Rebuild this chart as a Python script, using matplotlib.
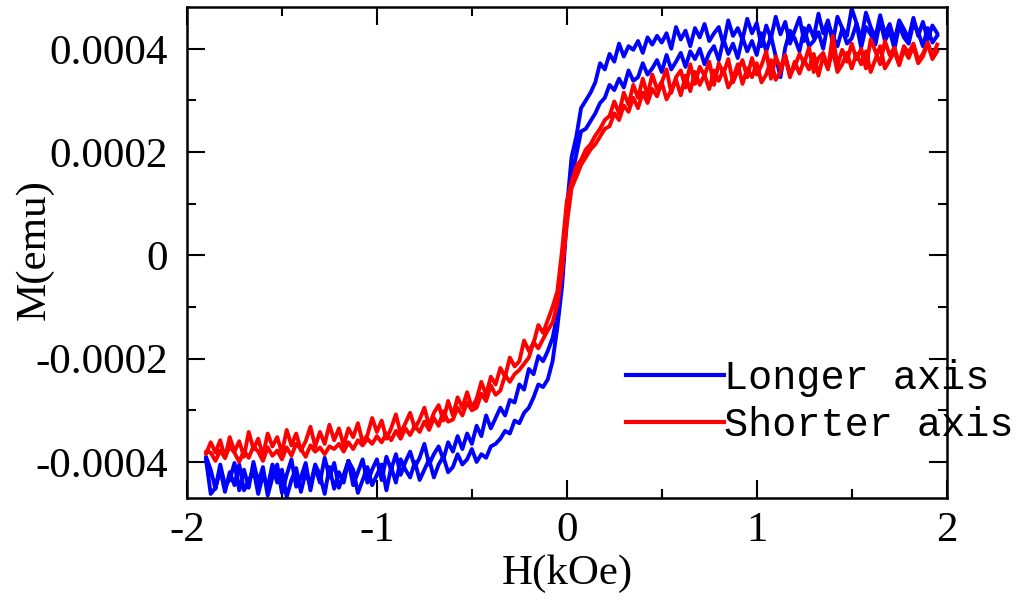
import matplotlib
matplotlib.use("Agg")
import matplotlib.pyplot as plt
from matplotlib.ticker import FixedLocator, MultipleLocator

# field sweep (kOe), shared by all branches
h = [1.950, 1.925, 1.900, 1.875, 1.850, 1.825, 1.800, 1.775, 1.750, 1.725,
     1.700, 1.675, 1.650, 1.625, 1.600, 1.575, 1.550, 1.525, 1.500, 1.475,
     1.450, 1.425, 1.400, 1.375, 1.350, 1.325, 1.300, 1.275, 1.250, 1.225,
     1.200, 1.175, 1.150, 1.125, 1.100, 1.075, 1.050, 1.025, 1.000, 0.975,
     0.950, 0.925, 0.900, 0.875, 0.850, 0.825, 0.800, 0.775, 0.750, 0.725,
     0.700, 0.675, 0.650, 0.625, 0.600, 0.575, 0.550, 0.525, 0.500, 0.475,
     0.450, 0.425, 0.400, 0.375, 0.350, 0.325, 0.300, 0.275, 0.250, 0.225,
     0.200, 0.175, 0.150, 0.125, 0.100, 0.075, 0.050, 0.025, 0.000, -0.025,
     -0.050, -0.075, -0.100, -0.125, -0.150, -0.175, -0.200, -0.225, -0.250, -0.275,
     -0.300, -0.325, -0.350, -0.375, -0.400, -0.425, -0.450, -0.475, -0.500, -0.525,
     -0.550, -0.575, -0.600, -0.625, -0.650, -0.675, -0.700, -0.725, -0.750, -0.775,
     -0.800, -0.825, -0.850, -0.875, -0.900, -0.925, -0.950, -0.975, -1.000, -1.025,
     -1.050, -1.075, -1.100, -1.125, -1.150, -1.175, -1.200, -1.225, -1.250, -1.275,
     -1.300, -1.325, -1.350, -1.375, -1.400, -1.425, -1.450, -1.475, -1.500, -1.525,
     -1.550, -1.575, -1.600, -1.625, -1.650, -1.675, -1.700, -1.725, -1.750, -1.775,
     -1.800, -1.825, -1.850, -1.875, -1.900]

# magnetization in units of 1e-4 emu, same order as h
long_down = [4.30, 4.45, 4.18, 4.52, 4.25, 4.60, 4.20, 4.38, 4.55, 4.15,
             4.48, 4.28, 4.65, 4.22, 4.42, 4.70, 4.18, 4.50, 4.78, 4.25,
             4.40, 4.62, 4.12, 4.55, 4.30, 4.68, 4.22, 4.45, 4.15, 4.60,
             4.35, 4.10, 4.52, 4.28, 4.62, 4.20, 4.45, 4.05, 4.50, 4.30,
             4.58, 4.18, 4.40, 4.25, 4.55, 4.08, 4.42, 4.30, 4.15, 4.48,
             4.22, 4.40, 4.05, 4.35, 4.18, 4.42, 4.00, 4.30, 4.12, 4.25,
             4.08, 4.22, 3.92, 4.15, 3.98, 4.05, 3.85, 4.10, 3.75, 3.90,
             3.60, 3.72, 3.35, 3.15, 3.00, 2.85, 2.30, 1.90, 0.90, -0.40,
             -1.15, -1.60, -1.85, -2.05, -1.95, -2.30, -2.20, -2.60, -2.50, -2.85,
             -2.80, -3.10, -2.95, -3.15, -3.35, -3.10, -3.50, -3.30, -3.65, -3.45,
             -3.75, -3.50, -3.80, -3.62, -3.95, -3.70, -3.85, -4.05, -3.65, -3.92,
             -4.10, -3.80, -4.00, -4.25, -3.85, -4.15, -3.90, -4.35, -3.95, -4.15,
             -4.40, -3.95, -4.20, -4.45, -3.98, -4.25, -4.50, -4.02, -4.30, -3.92,
             -4.40, -4.10, -4.55, -4.02, -4.30, -4.48, -3.95, -4.25, -4.60, -4.05,
             -4.30, -4.65, -4.10, -4.40, -4.00, -4.50, -4.15, -4.55, -4.02, -4.35,
             -4.45, -4.05, -4.52, -4.15, -3.90]
long_up = [4.25, 4.12, 4.40, 4.05, 4.32, 4.50, 4.10, 4.22, 4.45, 4.00,
           4.35, 4.15, 4.55, 4.08, 4.28, 4.42, 4.02, 4.48, 4.20, 4.10,
           4.38, 4.05, 4.25, 4.50, 4.00, 4.32, 4.15, 4.05, 4.40, 3.95,
           4.20, 4.35, 4.02, 3.45, 3.85, 4.25, 3.95, 4.30, 3.88, 4.15,
           3.95, 4.22, 3.82, 4.10, 3.90, 4.18, 3.78, 4.05, 3.92, 3.70,
           4.00, 3.80, 3.95, 3.65, 3.92, 3.75, 3.60, 3.88, 3.55, 3.78,
           3.62, 3.50, 3.72, 3.45, 3.38, 3.58, 3.25, 3.42, 3.20, 3.30,
           3.05, 2.95, 2.75, 2.60, 2.45, 2.40, 1.95, 1.50, 0.70, -0.60,
           -1.40, -2.05, -2.40, -2.55, -2.50, -2.75, -2.95, -3.05, -3.25, -3.20,
           -3.45, -3.40, -3.55, -3.65, -3.70, -3.92, -3.85, -4.00, -3.75, -3.95,
           -4.05, -3.85, -4.10, -4.20, -3.90, -4.05, -4.30, -3.95, -4.15, -4.35,
           -4.00, -4.30, -4.15, -3.95, -4.40, -4.10, -4.55, -4.05, -4.25, -4.45,
           -4.10, -4.35, -4.60, -4.15, -3.98, -4.40, -4.20, -4.52, -4.10, -4.62,
           -4.25, -4.05, -4.45, -4.20, -4.58, -4.12, -4.35, -4.68, -4.15, -4.40,
           -4.05, -4.48, -4.25, -4.62, -4.15, -4.38, -4.55, -4.05, -4.45, -4.20,
           -4.58, -4.15, -4.50, -4.62, -3.95]
short_down = [4.08, 3.85, 4.12, 3.90, 3.78, 4.10, 3.92, 4.05, 3.72, 4.02,
              3.88, 4.15, 3.70, 3.95, 4.18, 3.62, 4.00, 3.80, 4.10, 3.75,
              3.98, 3.68, 4.25, 3.60, 3.92, 3.82, 3.55, 4.02, 3.72, 3.90,
              3.65, 3.50, 3.88, 3.62, 3.85, 3.42, 3.95, 3.68, 3.50, 3.82,
              3.45, 3.78, 3.58, 3.35, 3.80, 3.52, 3.72, 3.30, 3.75, 3.48,
              3.65, 3.32, 3.70, 3.25, 3.58, 3.45, 3.15, 3.60, 3.35, 3.22,
              3.50, 3.10, 3.42, 3.05, 3.30, 2.92, 3.15, 2.75, 2.98, 2.70,
              2.62, 2.45, 2.32, 2.15, 2.05, 1.85, 1.72, 1.42, 1.05, 0.10,
              -0.70, -1.00, -1.25, -1.50, -1.35, -1.70, -1.85, -1.65, -2.05, -2.15,
              -1.98, -2.35, -2.18, -2.50, -2.35, -2.70, -2.45, -2.78, -2.95, -2.65,
              -2.95, -2.75, -3.10, -2.82, -3.20, -2.90, -3.05, -3.30, -2.95, -3.18,
              -3.35, -3.05, -3.25, -3.45, -3.08, -3.35, -3.55, -3.20, -3.42, -3.15,
              -3.48, -3.62, -3.25, -3.52, -3.35, -3.68, -3.35, -3.58, -3.28, -3.65,
              -3.42, -3.70, -3.32, -3.60, -3.78, -3.45, -3.68, -3.38, -3.82, -3.52,
              -3.70, -3.45, -3.88, -3.55, -3.75, -3.42, -3.90, -3.60, -3.80, -3.52,
              -3.92, -3.58, -3.82, -3.62, -3.85]
short_up = [3.95, 3.80, 4.10, 3.85, 3.72, 4.05, 3.82, 3.98, 3.68, 3.95,
            3.78, 3.62, 4.05, 3.80, 3.55, 3.95, 3.70, 3.90, 3.62, 3.92,
            3.70, 3.55, 3.98, 3.62, 3.85, 3.48, 3.90, 3.60, 3.78, 3.52,
            3.75, 3.45, 3.85, 3.55, 3.40, 3.78, 3.50, 3.35, 3.72, 3.45,
            3.62, 3.32, 3.70, 3.42, 3.25, 3.60, 3.38, 3.58, 3.22, 3.50,
            3.30, 3.55, 3.18, 3.48, 3.10, 3.40, 3.20, 3.02, 3.35, 3.08,
            3.22, 2.95, 3.15, 2.85, 3.05, 2.78, 2.90, 2.62, 2.75, 2.50,
            2.45, 2.30, 2.15, 2.05, 1.90, 1.75, 1.52, 1.30, 0.60, -0.30,
            -0.95, -1.30, -1.45, -1.62, -1.80, -1.68, -1.98, -2.10, -2.22, -2.30,
            -2.45, -2.32, -2.62, -2.70, -2.52, -2.82, -2.68, -2.95, -3.00, -2.85,
            -3.10, -2.95, -3.18, -3.22, -3.02, -3.30, -3.15, -3.38, -3.22, -3.42,
            -3.30, -3.48, -3.35, -3.55, -3.40, -3.58, -3.45, -3.62, -3.50, -3.65,
            -3.55, -3.68, -3.58, -3.75, -3.62, -3.80, -3.65, -3.75, -3.70, -3.85,
            -3.72, -3.80, -3.68, -3.90, -3.75, -3.65, -3.88, -3.72, -3.95, -3.78,
            -3.88, -3.72, -3.98, -3.80, -3.70, -3.92, -3.78, -4.00, -3.82, -3.70,
            -3.92, -3.78, -3.98, -3.82, -3.80]

labels = ["Longer axis", "Shorter axis"]
colors = ["#0000ff", "#ff0000"]
x_ticks = [-2, -1, 0, 1, 2]
y_ticks = [0.0004, 0.0002, 0, -0.0002, -0.0004]
y_tick_labels = ["0.0004", "0.0002", "0", "-0.0002", "-0.0004"]

plt.rcParams["font.family"] = ["Liberation Serif", "DejaVu Serif"]

fig = plt.figure(figsize=(10.19, 6.03), dpi=100)
ax = fig.add_axes([0.1835, 0.174, 0.7455, 0.8145])

series = [(long_down, long_up), (short_down, short_up)]
for (down, up), lab, col in zip(series, labels, colors):
    hh = h + h[::-1]
    mm = [v * 1e-4 for v in down] + [v * 1e-4 for v in up[::-1]]
    ax.plot(hh, mm, color=col, lw=2.8, label=lab)

ax.set_xlim(-2, 2)
ax.set_ylim(-0.00047, 0.000481)
ax.xaxis.set_major_locator(FixedLocator(x_ticks))
ax.xaxis.set_minor_locator(MultipleLocator(0.5))
ax.set_yticks(y_ticks)
ax.set_yticklabels(y_tick_labels)
ax.yaxis.set_minor_locator(MultipleLocator(0.0001))
ax.set_xticklabels([str(t) for t in x_ticks])

ax.tick_params(which="both", direction="in", top=True, right=True,
               width=1.5, labelsize=31)
ax.tick_params(which="major", length=13)
ax.tick_params(which="minor", length=6.5)
ax.tick_params(axis="y", pad=14)
ax.tick_params(axis="x", pad=10)
for s in ax.spines.values():
    s.set_linewidth(1.8)

ax.set_xlabel("H(kOe)", fontsize=31, labelpad=3)
ax.set_ylabel("M(emu)", fontsize=31)
ax.yaxis.set_label_coords(-0.176, 0.505)

leg = ax.legend(loc="upper left", bbox_to_anchor=(0.614, 0.405),
                bbox_transform=fig.transFigure, frameon=False,
                prop={"family": "Liberation Mono", "size": 29},
                handlelength=2.45, handletextpad=0.0, labelspacing=0.22,
                borderpad=0, borderaxespad=0)
for line in leg.get_lines():
    line.set_linewidth(3)

fig.savefig("out.png", dpi=100)
